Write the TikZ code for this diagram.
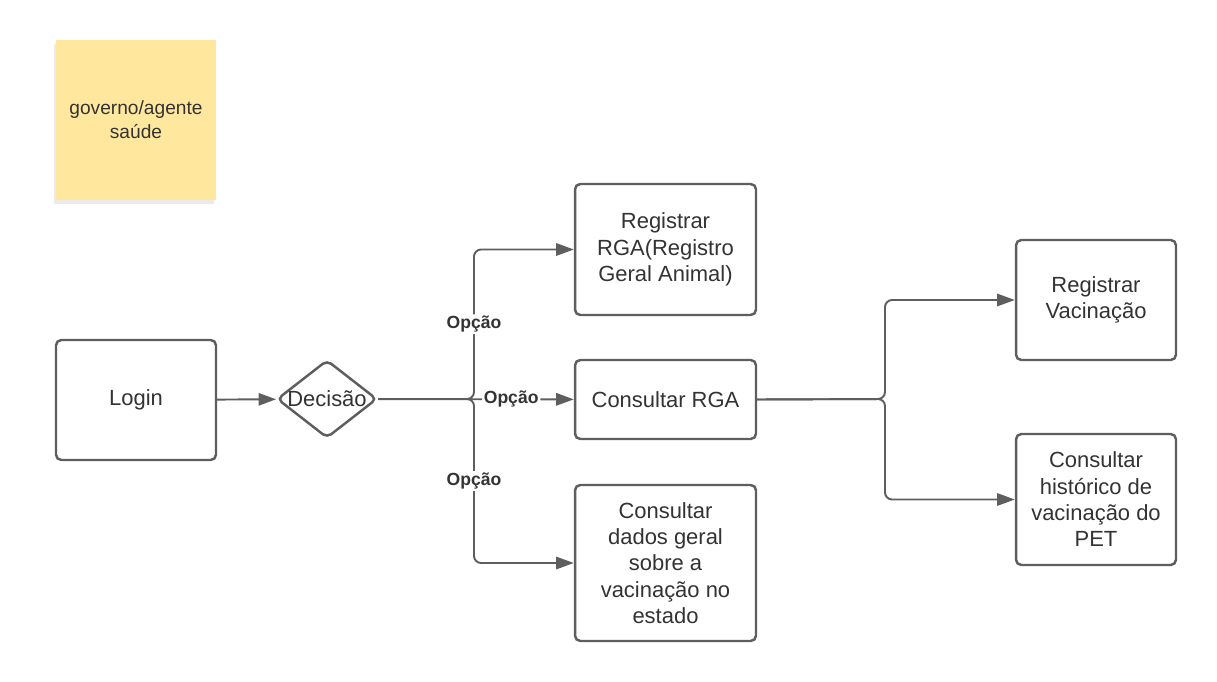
\documentclass[tikz,border=0pt]{standalone}
\usepackage{fontspec}
\setmainfont{Liberation Sans}
\usetikzlibrary{shapes.geometric}
\usetikzlibrary{arrows.meta}
\usetikzlibrary{shadows}
\definecolor{linegray}{RGB}{94,94,94}
\definecolor{textgray}{RGB}{51,51,51}
\definecolor{notey}{RGB}{255,232,158}

\begin{document}
\begin{tikzpicture}[x=0.02cm, y=-0.02cm,
    every node/.style={text=textgray, font=\fontsize{12.5}{15}\selectfont},
    task/.style={rectangle, draw=linegray, line width=1.4pt, rounded corners=3pt, fill=white, align=center, inner sep=2pt},
    link/.style={draw=linegray, line width=1.1pt, rounded corners=4pt, -{Triangle[length=10pt, width=7pt]}},
    opt/.style={fill=white, inner sep=1pt, font=\bfseries\fontsize{10}{12}\selectfont}]
    \useasboundingbox (0,0) rectangle (1217,682);

    \node (note) at (136,120) [rectangle, fill=notey, minimum width=3.2cm, minimum height=3.2cm, align=center, drop shadow={shadow xshift=-1pt, shadow yshift=-2.5pt, opacity=0.08, fill=black}, font=\fontsize{10.9}{13.7}\selectfont] {governo/agente\\saúde};

    \node (login) at (136,400) [task, minimum width=3.2cm, minimum height=2.4cm] {Login};
    \node (dec) at (327,399) [diamond, draw=linegray, line width=1.4pt, rounded corners=3pt, fill=white, minimum width=2cm, minimum height=1.56cm, inner sep=0pt] {};
    \node (dectext) at (dec) {Decisão};

    \node (rga) at (665.5,249.5) [task, minimum width=3.62cm, minimum height=2.62cm] {Registrar\\RGA(Registro\\Geral Animal)};
    \node (crga) at (665.5,399.5) [task, minimum width=3.62cm, minimum height=1.58cm] {Consultar RGA};
    \node (dados) at (665.5,563) [task, minimum width=3.62cm, minimum height=3.12cm] {Consultar\\dados geral\\sobre a\\vacinação no\\estado};

    \node (rvac) at (1096,300) [task, minimum width=3.2cm, minimum height=2.4cm] {Registrar\\Vacinação};
    \node (hist) at (1096,499.5) [task, minimum width=3.2cm, minimum height=2.62cm] {Consultar\\histórico de\\vacinação do\\PET};

    \coordinate (fork) at (474,399);
    \coordinate (fork2) at (885,399);

    \draw [link] (login) -- (dec);

    \draw [link] (dec) -- (crga) node [pos=0.68, opt] {Opção};
    \draw [link] (dec.east) -- (fork) |- (rga) node [pos=0.25, opt] {Opção};
    \draw [link] (dec.east) -- (fork) |- (dados) node [pos=0.25, opt] {Opção};

    \draw [link] (crga.east) -- (fork2) |- (rvac);
    \draw [link] (crga.east) -- (fork2) |- (hist);
\end{tikzpicture}
\end{document}
